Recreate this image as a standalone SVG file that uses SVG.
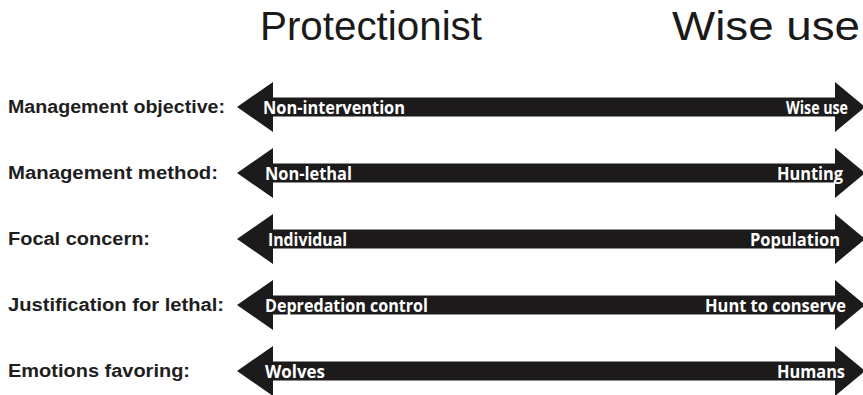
<svg xmlns="http://www.w3.org/2000/svg" xmlns:xlink="http://www.w3.org/1999/xlink" width="863" height="395" viewBox="0 0 863 395">
<style>
.title{font-family:"Liberation Sans",Arial,sans-serif;font-size:40px;fill:#1a1a1a}
.lbl{font-family:"Liberation Sans",Arial,sans-serif;font-size:18px;font-weight:bold;fill:#1e1e1e}
.in{font-family:"Open Sans","DejaVu Sans",sans-serif;font-size:17.5px;font-weight:bold;fill:#ffffff}
.arr{fill:#1c1a1b}
</style>
<defs>
<polygon id="dbl" class="arr" points="237,0 273,-25 273,-9.5 835,-9.5 835,-25 865,0 835,25 835,9.5 273,9.5 273,25"/>
</defs>
<rect width="863" height="395" fill="#ffffff"/>
<g id="titles">
<text class="title" x="260" y="40" textLength="222" lengthAdjust="spacingAndGlyphs">Protectionist</text>
<text class="title" x="672" y="40" textLength="188" lengthAdjust="spacingAndGlyphs">Wise use</text>
</g>
<g id="connectors">
<use xlink:href="#dbl" href="#dbl" transform="translate(0,107)"/>
<use xlink:href="#dbl" href="#dbl" transform="translate(0,173)"/>
<use xlink:href="#dbl" href="#dbl" transform="translate(0,239)"/>
<use xlink:href="#dbl" href="#dbl" transform="translate(0,305)"/>
<use xlink:href="#dbl" href="#dbl" transform="translate(0,371)"/>
</g>
<g id="row1">
<text class="lbl" x="8" y="113" textLength="217" lengthAdjust="spacingAndGlyphs">Management objective:</text>
<text class="in" x="263" y="113.5" textLength="142" lengthAdjust="spacingAndGlyphs">Non-intervention</text>
<text class="in" x="848" y="113.5" text-anchor="end" textLength="62" lengthAdjust="spacingAndGlyphs">Wise use</text>
</g>
<g id="row2">
<text class="lbl" x="8" y="179" textLength="210" lengthAdjust="spacingAndGlyphs">Management method:</text>
<text class="in" x="265" y="179.5" textLength="87" lengthAdjust="spacingAndGlyphs">Non-lethal</text>
<text class="in" x="843" y="179.5" text-anchor="end" textLength="66" lengthAdjust="spacingAndGlyphs">Hunting</text>
</g>
<g id="row3">
<text class="lbl" x="8" y="245" textLength="142" lengthAdjust="spacingAndGlyphs">Focal concern:</text>
<text class="in" x="268" y="245.5" textLength="79" lengthAdjust="spacingAndGlyphs">Individual</text>
<text class="in" x="840" y="245.5" text-anchor="end" textLength="90" lengthAdjust="spacingAndGlyphs">Population</text>
</g>
<g id="row4">
<text class="lbl" x="8" y="311" textLength="216" lengthAdjust="spacingAndGlyphs">Justification for lethal:</text>
<text class="in" x="265" y="311.5" textLength="163" lengthAdjust="spacingAndGlyphs">Depredation control</text>
<text class="in" x="846" y="311.5" text-anchor="end" textLength="141" lengthAdjust="spacingAndGlyphs">Hunt to conserve</text>
</g>
<g id="row5">
<text class="lbl" x="8" y="377" textLength="182" lengthAdjust="spacingAndGlyphs">Emotions favoring:</text>
<text class="in" x="265" y="377.5" textLength="60" lengthAdjust="spacingAndGlyphs">Wolves</text>
<text class="in" x="845" y="377.5" text-anchor="end" textLength="68" lengthAdjust="spacingAndGlyphs">Humans</text>
</g>
</svg>
